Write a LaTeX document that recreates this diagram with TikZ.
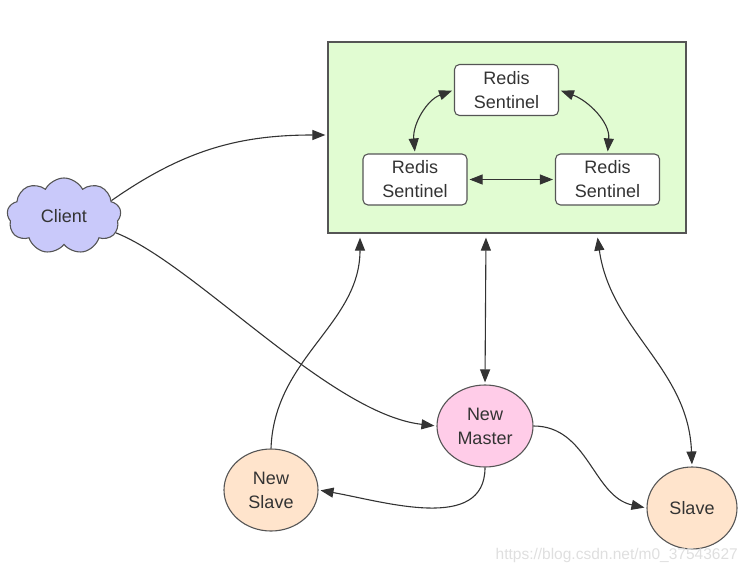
\documentclass[tikz,border=0pt]{standalone}
\usepackage{fontspec}
\setmainfont{Liberation Sans}
\usetikzlibrary{shapes.symbols,shapes.geometric,arrows.meta}
\definecolor{txt}{HTML}{333333}
\definecolor{edge}{HTML}{555555}
\definecolor{boxgreen}{HTML}{E1FCD2}
\definecolor{cloudblue}{HTML}{C9C9FA}
\definecolor{masterpink}{HTML}{FFCCE8}
\definecolor{slavepeach}{HTML}{FFE4CC}
\begin{document}
\begin{tikzpicture}[x=1pt,y=1pt,
  lbl/.style={font=\fontsize{18}{24}\selectfont, text=txt, align=center},
  sentinel/.style={lbl, draw=edge, line width=1.1pt, fill=white, rounded corners=5pt,
     minimum width=104pt, minimum height=51pt, inner sep=0pt},
  roundnode/.style={lbl, ellipse, draw=edge, line width=1.1pt, inner sep=0pt},
  tip/.style={},
  conn/.style={draw=txt, line width=1.1pt, -{Triangle[length=13pt,width=10pt]}, shorten >=2pt},
  dconn/.style={draw=txt, line width=1.1pt, {Triangle[length=13pt,width=10pt]}-{Triangle[length=13pt,width=10pt]}, shorten >=2pt, shorten <=2pt}
]
\useasboundingbox (0,0) rectangle (749,574);
% sentinel group box
\node[draw=edge, line width=1.2pt, fill=boxgreen, minimum width=358pt, minimum height=191pt, inner sep=0pt] (box) at (507,436.5) {};
\node[sentinel] (stop) at (506.5,484) {Redis\\Sentinel};
\node[sentinel] (sleft) at (415,394.5) {Redis\\Sentinel};
\node[sentinel] (sright) at (607.5,394.5) {Redis\\Sentinel};
% client
\node[lbl, cloud, cloud puffs=9, cloud puff arc=125, aspect=1.6, draw=edge, line width=1.1pt, fill=cloudblue,
      minimum width=114pt, minimum height=76pt, inner sep=0pt] (client) at (64,358) {Client};
% redis nodes
\node[roundnode, fill=masterpink, minimum width=96pt, minimum height=82pt] (master) at (485,148) {New\\Master};
\node[roundnode, fill=slavepeach, minimum width=94pt, minimum height=82pt] (newslave) at (271,84) {New\\Slave};
\node[roundnode, fill=slavepeach, minimum width=90pt, minimum height=82pt] (slave) at (692,66) {Slave};
% helper coordinates on the box border
\coordinate (yL) at (0,439);
\coordinate (xA) at (360,0);
\coordinate (xB) at (486,0);
\coordinate (xC) at (597,0);
% sentinel connections
\draw[dconn] (sleft.north) to[out=95,in=200] (stop.west);
\draw[dconn] (sright.north) to[out=85,in=-20] (stop.east);
\draw[dconn] (sleft.east) -- (sright.west);
% client connections
\draw[conn] (client.18) to[out=35,in=180] (box.west |- yL);
\draw[conn] (client.-18) .. controls (195,310) and (330,160) .. (master.west);
% sentinels to redis
\draw[conn, shorten >=4pt] (newslave.north) to[out=88,in=-90] (box.south -| xA);
\draw[dconn, shorten <=4pt] (box.south -| xB) -- (master.north);
\draw[dconn, shorten <=4pt] (box.south -| xC) to[out=-82,in=92] (slave.north);
% replication
\draw[conn] (master.south) to[out=-90,in=-10] (newslave.east);
\draw[conn] (master.east) to[out=0,in=168] (slave.west);
% watermark
\node[font=\fontsize{15.5}{18}\selectfont, text=gray!25, anchor=east, inner sep=0pt] (wm) at (738,19) {https://blog.csdn.net/m0\_37543627};
\end{tikzpicture}
\end{document}
